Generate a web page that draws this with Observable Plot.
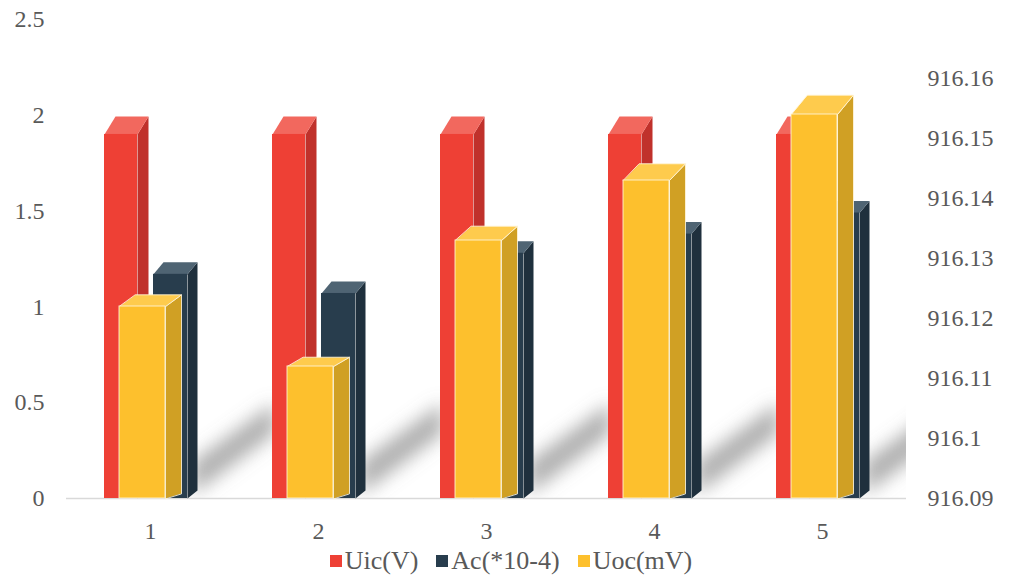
<!DOCTYPE html>
<html><head><meta charset="utf-8">
<script src="https://cdn.jsdelivr.net/npm/d3@7"></script>
<script src="https://cdn.jsdelivr.net/npm/@observablehq/plot@0.6"></script>
<style>
body{margin:0;background:#fff;font-family:"Liberation Serif","Times New Roman",serif;}
#chart{position:absolute;left:0;top:0;}
#legend{position:absolute;left:6px;top:547px;width:1010px;height:28px;display:flex;justify-content:center;align-items:center;font-size:26px;color:#595959;}
#legend .item{display:flex;align-items:center;margin:0 9px;}
#legend .sw{width:12px;height:12px;margin-right:3px;}
</style></head><body><div id="chart"></div><div id="legend"></div>
<script>
const categories = ["1","2","3","4","5"];
const seriesNames = ["Uic(V)","Ac(*10-4)","Uoc(mV)"];
const uic = [1.9,1.9,1.9,1.9,1.9];
const ac = [1.17,1.07,1.28,1.38,1.49];
const uoc = [916.122,916.112,916.133,916.143,916.154];
const leftTicks = [0,0.5,1,1.5,2,2.5];
const leftTickLabels = ["0","0.5","1","1.5","2","2.5"];
const rightTicks = [916.09,916.10,916.11,916.12,916.13,916.14,916.15,916.16];
const rightTickLabels = ["916.09","916.1","916.11","916.12","916.13","916.14","916.15","916.16"];

const W = 1010, H = 545, mL = 66, mR = 104, mT = 19, mB = 47;
const pxX = (W - mL - mR) / 5;
const pxY = (H - mT - mB) / 2.5;
const rightSpanLeft = 420 / pxY;
const toLeft = r => (r - rightTicks[0]) / (rightTicks[rightTicks.length-1] - rightTicks[0]) * rightSpanLeft;

function faces(series, vals, x1p, x2p, ddxp, dyTop, dyBot) {
  const fronts = [], sides = [], tops = [];
  vals.forEach((v, i) => {
    const c = i + 1, x1 = c + x1p / pxX, x2 = c + x2p / pxX, dx = ddxp / pxX;
    const hpx = v * pxY;
    const dt = (typeof dyTop === "function" ? dyTop(hpx) : dyTop) / pxY, db = dyBot / pxY;
    fronts.push({x1, x2, y1: 0, y2: v});
    const id = series + i;
    [[x2,0],[x2,v],[x2+dx,v+dt],[x2+dx,db]].forEach(([x,y]) => sides.push({id, x, y}));
    [[x1,v],[x2,v],[x2+dx,v+dt],[x1+dx,v+dt]].forEach(([x,y]) => tops.push({id, x, y}));
  });
  return {fronts, sides, tops};
}
const red = faces("r", uic, -46, -13, 11, 18, 18);
const dark = faces("d", ac, 3, 37, 10, 12, 8);
const yel = faces("y", uoc.map(toLeft), -31, 15, 16, h => 4 + 0.04 * h, 5);

const shadows = [];
categories.forEach((d, i) => {
  const c = i + 1;
  [[c+0.25, 0.02],[c+0.25, 0.19],[c+0.74, 0.50],[c+0.74, 0.34]].forEach(([x,y]) => shadows.push({id: "s" + i, x, y}));
});

function boxMarks(f, cFront, cTop, cSide, stroke) {
  const so = stroke ? {stroke, strokeWidth: 1, strokeOpacity: 0.85} : {stroke: "none"};
  return [
    Plot.line(f.sides, {x: "x", y: "y", z: "id", curve: "linear-closed", fill: cSide, ...so}),
    Plot.line(f.tops, {x: "x", y: "y", z: "id", curve: "linear-closed", fill: cTop, ...so}),
    Plot.rect(f.fronts, {x1: "x1", x2: "x2", y1: "y1", y2: "y2", fill: cFront, ...so})
  ];
}
const FONT = '"Liberation Serif","Times New Roman",Times,serif';
const chart = Plot.plot({
  width: W, height: H, marginLeft: mL, marginRight: mR, marginTop: mT, marginBottom: mB,
  x: {type: "linear", domain: [0.5, 5.5], axis: null},
  y: {domain: [0, 2.5], axis: null},
  style: {fontFamily: FONT, color: "#595959", background: "transparent", overflow: "visible"},
  marks: [
    Plot.line(shadows, {x: "x", y: "y", z: "id", curve: "linear-closed", fill: "#7a7a7a", stroke: "none"}),
    Plot.ruleY([0], {stroke: "#d9d9d9", strokeWidth: 1.5}),
    ...boxMarks(red, "#EE4035", "#F2685E", "#C0312B", null),
    ...boxMarks(dark, "#283D4D", "#4F6473", "#1F303D", null),
    ...boxMarks(yel, "#FDC02D", "#FECB4D", "#D0A024", "#fff6dc"),
    Plot.text(leftTicks, {frameAnchor: "left", y: d => d, text: (d, i) => leftTickLabels[i], textAnchor: "end", dx: -22, fontSize: 24, fontFamily: FONT}),
    Plot.text(rightTicks, {frameAnchor: "right", y: d => toLeft(d), text: (d, i) => rightTickLabels[i], textAnchor: "start", dx: 21, fontSize: 24, fontFamily: FONT}),
    Plot.text(categories, {x: (d, i) => i + 1, y: 0, text: d => d, dy: 33, fontSize: 24, fontFamily: FONT})
  ]
});
// soften the floor shadows (first mark group): blur + clip to the plot frame
const ns = "http://www.w3.org/2000/svg";
const defs = document.createElementNS(ns, "defs");
defs.innerHTML = `<filter id="shblur" x="-50%" y="-50%" width="200%" height="200%"><feGaussianBlur stdDeviation="9"/></filter>
<clipPath id="shclip"><rect x="${mL}" y="${mT}" width="${W-mL-mR}" height="${H-mT-mB}"/></clipPath>`;
chart.insertBefore(defs, chart.firstChild);
const shadowG = chart.querySelector("g[aria-label='line']");
if (shadowG) {
  const wrap = document.createElementNS(ns, "g");
  wrap.setAttribute("clip-path", "url(#shclip)");
  shadowG.parentNode.insertBefore(wrap, shadowG);
  wrap.appendChild(shadowG);
  shadowG.setAttribute("filter", "url(#shblur)");
  shadowG.setAttribute("fill-opacity", "0.6");
}
document.getElementById("chart").appendChild(chart);

const colors = ["#EE4035", "#283D4D", "#FDC02D"];
const leg = document.getElementById("legend");
seriesNames.forEach((n, i) => {
  const it = document.createElement("span"); it.className = "item";
  const sw = document.createElement("span"); sw.className = "sw"; sw.style.background = colors[i];
  const t = document.createElement("span"); t.textContent = n;
  it.appendChild(sw); it.appendChild(t); leg.appendChild(it);
});
</script></body></html>
